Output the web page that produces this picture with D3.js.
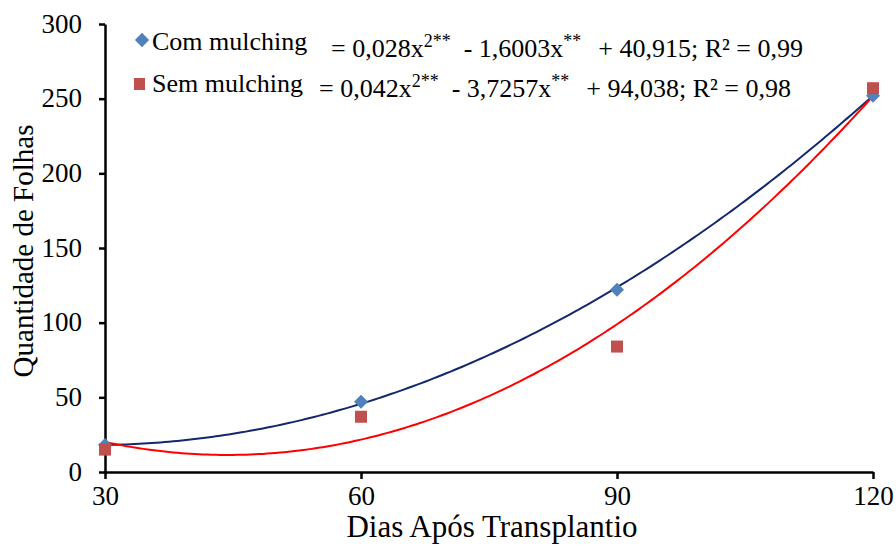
<!DOCTYPE html>
<html>
<head>
<meta charset="utf-8">
<script src="https://cdn.jsdelivr.net/npm/d3@7"></script>
<style>
  body { margin: 0; background: #fff; }
  svg text { font-family: "Liberation Serif", "Times New Roman", serif; fill: #000; }
</style>
</head>
<body>
<svg id="chart"></svg>
<script>
// data
var dias = [30, 60, 90, 120];
var comMulching = [18, 47, 122, 252];
var semMulching = [15, 37, 84, 257];
var yTicks = [0, 50, 100, 150, 200, 250, 300];
var xTicks = [30, 60, 90, 120];
// trendline coefficients [a, b, c] for a*x^2 + b*x + c
var coefCom = [0.028, -1.6003, 40.915];
var coefSem = [0.042, -3.7257, 94.038];

var svgWidth = 896, svgHeight = 552;
var margin = { top: 24, right: 23, bottom: 80, left: 105 };
var width = svgWidth - margin.left - margin.right;
var height = svgHeight - margin.top - margin.bottom;

var svg = d3.select("#chart")
    .attr("width", svgWidth)
    .attr("height", svgHeight);

var g = svg.append("g")
    .attr("transform", "translate(" + margin.left + "," + margin.top + ")");

var x = d3.scaleLinear().domain([30, 120]).range([0, width]);
var y = d3.scaleLinear().domain([0, 300]).range([height, 0]);

// axes
var xAxis = g.append("g")
    .attr("transform", "translate(0," + height + ")")
    .call(d3.axisBottom(x).tickValues(xTicks).tickSize(7).tickSizeOuter(0).tickPadding(5));
var yAxis = g.append("g")
    .call(d3.axisLeft(y).tickValues(yTicks).tickSize(6).tickSizeOuter(0).tickPadding(17));

[xAxis, yAxis].forEach(function(a) {
    a.selectAll("path, line").attr("stroke", "#000").attr("stroke-width", 2.5);
    a.selectAll("text").style("font-size", "27px").attr("fill", "#000");
});
xAxis.selectAll("text").attr("dy", "0.78em");
yAxis.selectAll("text").attr("dy", "0.3em");

// axis titles
svg.append("text")
    .attr("x", 492)
    .attr("y", 537)
    .attr("text-anchor", "middle")
    .style("font-size", "31px")
    .text("Dias Após Transplantio");

svg.append("text")
    .attr("transform", "translate(33,251) rotate(-90)")
    .attr("text-anchor", "middle")
    .style("font-size", "29px")
    .text("Quantidade de Folhas");

// trendlines
function quad(c) {
    return function(v) { return c[0] * v * v + c[1] * v + c[2]; };
}
var xs = d3.range(30, 120.01, 0.5);
var line = d3.line()
    .x(function(d) { return x(d[0]); })
    .y(function(d) { return y(d[1]); });

var fCom = quad(coefCom), fSem = quad(coefSem);
g.append("path")
    .datum(xs.map(function(v) { return [v, fCom(v)]; }))
    .attr("fill", "none")
    .attr("stroke", "#14286e")
    .attr("stroke-width", 2)
    .attr("d", line);
g.append("path")
    .datum(xs.map(function(v) { return [v, fSem(v)]; }))
    .attr("fill", "none")
    .attr("stroke", "#ff0000")
    .attr("stroke-width", 2)
    .attr("d", line);

// markers
var diamond = d3.symbol().type(d3.symbolDiamond2).size(125);
g.selectAll(".com")
    .data(dias)
    .enter()
    .append("path")
    .attr("class", "com")
    .attr("d", diamond)
    .attr("transform", function(d, i) { return "translate(" + x(d) + "," + y(comMulching[i]) + ")"; })
    .attr("fill", "#4f81bd");

g.selectAll(".sem")
    .data(dias)
    .enter()
    .append("rect")
    .attr("class", "sem")
    .attr("x", function(d) { return x(d) - 6; })
    .attr("y", function(d, i) { return y(semMulching[i]) - 6; })
    .attr("width", 12)
    .attr("height", 12)
    .attr("fill", "#c0504d");

// legend with equations
var legend = svg.append("g");
legend.append("path")
    .attr("d", d3.symbol().type(d3.symbolDiamond2).size(130))
    .attr("transform", "translate(142,40)")
    .attr("fill", "#4f81bd");
legend.append("rect")
    .attr("x", 134).attr("y", 78).attr("width", 11).attr("height", 12)
    .attr("fill", "#c0504d");

legend.append("text").attr("x", 152).attr("y", 50).style("font-size", "26px").text("Com mulching");
legend.append("text").attr("x", 152).attr("y", 92).style("font-size", "26px").text("Sem mulching");

function equation(xPos, yPos, a, b, c, r2) {
    var t = legend.append("text").attr("x", xPos).attr("y", yPos).style("font-size", "26px");
    t.append("tspan").text("= " + a + "x");
    t.append("tspan").attr("dy", -10).style("font-size", "18px").text("2**");
    t.append("tspan").attr("dy", 10).attr("dx", 13).text("- " + b + "x");
    t.append("tspan").attr("dy", -10).style("font-size", "18px").text("**");
    t.append("tspan").attr("dy", 10).attr("dx", 17).text("+ " + c + "; R² = " + r2);
}
equation(331, 57, "0,028", "1,6003", "40,915", "0,99");
equation(319, 97, "0,042", "3,7257", "94,038", "0,98");
</script>
</body>
</html>
